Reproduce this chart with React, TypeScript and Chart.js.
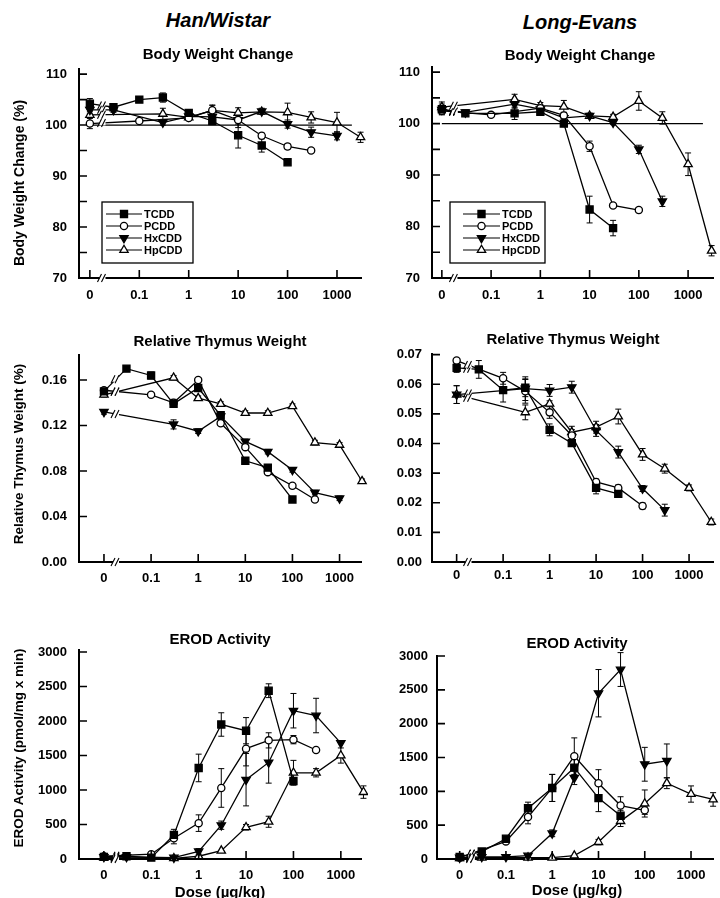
import React, { useEffect, useRef } from 'react';
import { Chart, registerables } from 'chart.js';

Chart.register(...registerables);

const FONT = "'Liberation Sans', Arial, Helvetica, sans-serif";

// ---------- shared categories ----------
const DOSES = [0, 0.03, 0.1, 0.3, 1, 3, 10, 30, 100, 300, 1000, 3000];
const DOSE_TICKS = [0, 0.1, 1, 10, 100, 1000];
const DOSE_TICK_LABELS = ['0', '0.1', '1', '10', '100', '1000'];
const ZERO_DOSE_AT = 0.01; // where the "0" dose group sits on the log axis
const BREAK_DOSE = 0.018; // axis break between control and first dose
const REFERENCE_END_DOSE = 2000;
const COMPOUNDS = ['TCDD', 'PCDD', 'HxCDD', 'HpCDD'];
const STRAINS = ['Han/Wistar', 'Long-Evans'];
const ENDPOINTS = ['Body Weight Change', 'Relative Thymus Weight', 'EROD Activity'];
const Y_TITLES = ['Body Weight Change (%)', 'Relative Thymus Weight (%)', 'EROD Activity (pmol/mg x min)'];
const X_TITLE = 'Dose (\u00b5g/kg)';

const BW_TICKS = [70, 75, 80, 85, 90, 95, 100, 105, 110];
const BW_REFERENCE = 100;
const THY_HW_TICKS = [0, 0.04, 0.08, 0.12, 0.16];
const THY_LE_TICKS = [0, 0.01, 0.02, 0.03, 0.04, 0.05, 0.06, 0.07];
const EROD_TICKS = [0, 500, 1000, 1500, 2000, 2500, 3000];

// ---------- Han/Wistar: body weight change (%) ----------
const HW_BW_TCDD = [104.2, 103.5, 105.0, 105.4, 102.4, 100.8, 98.0, 96.0, 92.7, null, null, null];
const HW_BW_PCDD = [100.3, null, 100.8, null, 101.4, 102.9, 101.0, 97.9, 95.8, 95.0, null, null];
const HW_BW_HXCDD = [103.0, 103.0, null, 100.5, 101.7, 101.6, 101.0, 102.7, 100.2, 98.6, 97.9, null];
const HW_BW_HPCDD = [102.0, null, null, 102.2, 101.5, 102.9, 102.4, 102.6, 102.5, 101.5, 100.5, 97.6];
const HW_BW_TCDD_ERR = [1.0, 0.7, 0.3, 0.9, 0.4, 0.6, 2.5, 1.3, 0.4, null, null, null];
const HW_BW_PCDD_ERR = [1.0, null, 0.3, null, 0.4, 1.0, 0.8, 0.5, 0.5, 0.4, null, null];
const HW_BW_HXCDD_ERR = [0.8, 0.5, null, 0.5, 0.4, 0.6, 1.5, 0.6, 0.8, 1.0, 0.8, null];
const HW_BW_HPCDD_ERR = [0.6, null, null, 1.1, 0.4, 1.0, 1.0, 0.5, 1.8, 1.1, 2.0, 1.0];

// ---------- Long-Evans: body weight change (%) ----------
const LE_BW_TCDD = [102.8, 102.0, null, 102.0, 102.3, 100.0, 83.3, 79.7, null, null, null, null];
const LE_BW_PCDD = [102.5, null, 101.7, null, 103.0, 101.6, 95.6, 84.1, 83.2, null, null, null];
const LE_BW_HXCDD = [102.7, 102.2, null, 103.8, 102.8, 101.1, 101.5, 100.2, 95.0, 84.9, null, null];
const LE_BW_HPCDD = [103.2, null, null, 104.7, 103.5, 103.3, 101.5, 101.3, 104.4, 101.1, 92.1, 75.3];
const LE_BW_TCDD_ERR = [1.0, 0.5, null, 1.2, 0.6, 0.5, 2.6, 1.5, null, null, null, null];
const LE_BW_PCDD_ERR = [0.8, null, 0.4, null, 0.6, 0.6, 1.0, 0.4, 0.5, null, null, null];
const LE_BW_HXCDD_ERR = [0.6, 0.4, null, 0.8, 0.6, 0.6, 0.5, 0.4, 0.8, 1.0, null, null];
const LE_BW_HPCDD_ERR = [1.0, null, null, 1.0, 0.6, 1.2, 0.5, 0.5, 1.8, 1.2, 2.2, 1.0];

// ---------- Han/Wistar: relative thymus weight (%) ----------
const HW_THY_TCDD = [0.150, 0.170, 0.164, 0.139, 0.153, 0.129, 0.089, 0.083, 0.055, null, null, null];
const HW_THY_PCDD = [0.151, null, 0.147, 0.140, 0.160, 0.122, 0.101, 0.079, 0.067, 0.055, null, null];
const HW_THY_HXCDD = [0.132, null, null, 0.121, 0.115, 0.128, 0.106, 0.097, 0.081, 0.061, 0.056, null];
const HW_THY_HPCDD = [0.147, null, null, 0.162, 0.144, 0.139, 0.131, 0.131, 0.137, 0.105, 0.103, 0.071];
const HW_THY_TCDD_ERR = [0.002, 0.002, 0.003, 0.002, 0.003, 0.003, 0.002, 0.002, 0.002, null, null, null];
const HW_THY_PCDD_ERR = [0.002, null, 0.002, 0.003, 0.002, 0.002, 0.002, 0.002, 0.002, 0.002, null, null];
const HW_THY_HXCDD_ERR = [0.002, null, null, 0.004, 0.002, 0.002, 0.002, 0.002, 0.002, 0.002, 0.002, null];
const HW_THY_HPCDD_ERR = [0.002, null, null, 0.002, 0.002, 0.002, 0.002, 0.002, 0.002, 0.002, 0.002, 0.002];

// ---------- Long-Evans: relative thymus weight (%) ----------
const LE_THY_TCDD = [0.0655, 0.065, 0.058, 0.0588, 0.0446, 0.0401, 0.025, 0.023, null, null, null, null];
const LE_THY_PCDD = [0.068, null, 0.062, 0.0576, 0.0505, 0.0427, 0.027, 0.025, 0.0189, null, null, null];
const LE_THY_HXCDD = [0.0565, null, null, 0.0585, 0.0579, 0.059, 0.0444, 0.0371, 0.0248, 0.0175, null, null];
const LE_THY_HPCDD = [0.0565, null, null, 0.0505, 0.0534, 0.0438, 0.0455, 0.0491, 0.0363, 0.0315, 0.025, 0.0135];
const LE_THY_TCDD_ERR = [0.0015, 0.003, 0.004, 0.003, 0.002, 0.001, 0.002, 0.001, null, null, null, null];
const LE_THY_PCDD_ERR = [0.0005, null, 0.002, 0.004, 0.002, 0.002, 0.001, 0.001, 0.001, null, null, null];
const LE_THY_HXCDD_ERR = [0.003, null, null, 0.004, 0.002, 0.002, 0.002, 0.002, 0.001, 0.002, null, null];
const LE_THY_HPCDD_ERR = [0.003, null, null, 0.0025, 0.001, 0.002, 0.002, 0.0025, 0.002, 0.0015, 0.001, 0.001];

// ---------- Han/Wistar: EROD activity (pmol/mg x min) ----------
const HW_EROD_TCDD = [30, 40, 20, 350, 1320, 1950, 1860, 2440, 1130, null, null, null];
const HW_EROD_PCDD = [40, null, 70, 300, 520, 1030, 1600, 1720, 1730, 1580, null, null];
const HW_EROD_HXCDD = [30, 30, null, 20, 110, 490, 1150, 1400, 2150, 2080, 1680, null];
const HW_EROD_HPCDD = [20, null, null, 10, 40, 120, 460, 540, 1250, 1250, 1500, 970];
const HW_EROD_TCDD_ERR = [null, null, null, 80, 200, 170, 190, 100, 40, null, null, null];
const HW_EROD_PCDD_ERR = [null, null, null, 80, 120, 280, 250, 110, 60, null, null, null];
const HW_EROD_HXCDD_ERR = [null, null, null, null, 40, 60, 380, 300, 250, 250, null, null];
const HW_EROD_HPCDD_ERR = [null, null, null, null, null, null, 40, 80, 180, 60, 110, 90];

// ---------- Long-Evans: EROD activity (pmol/mg x min) ----------
const LE_EROD_TCDD = [30, 110, 300, 750, 1050, 1350, 900, 640, null, null, null, null];
const LE_EROD_PCDD = [20, null, 260, 620, 1050, 1520, 1120, 790, 720, null, null, null];
const LE_EROD_HXCDD = [20, 30, 30, 50, 380, 1200, 2450, 2800, 1400, 1450, null, null];
const LE_EROD_HPCDD = [10, 20, null, 20, 20, 50, 250, 560, 820, 1120, 960, 880];
const LE_EROD_TCDD_ERR = [null, null, 30, 90, 200, 150, 200, 80, null, null, null, null];
const LE_EROD_PCDD_ERR = [null, null, 30, 100, 200, 270, 200, 130, 60, null, null, null];
const LE_EROD_HXCDD_ERR = [null, null, null, null, 50, 100, 350, 250, 250, 250, null, null];
const LE_EROD_HPCDD_ERR = [null, null, null, null, null, null, 40, 80, 200, 80, 120, 100];

// ---------- marker styles per compound ----------
const MARKERS = [
  { style: 'rect', radius: 5, rotation: 0, fill: '#000' },
  { style: 'circle', radius: 3.6, rotation: 0, fill: '#fff' },
  { style: 'triangle', radius: 4.8, rotation: 180, fill: '#000' },
  { style: 'triangle', radius: 4.8, rotation: 0, fill: '#fff' },
];

type Box = { left: number; top: number; width: number; height: number };
type Area = { left: number; top: number; right: number; bottom: number };
type LegendSpec = { dx: number; dyBottom: number; w: number; h: number; lineStart: number; lineEnd: number; textX: number };
type Spec = {
  series: (number | null)[][];
  errors: (number | null)[][];
  yTicks: number[];
  yLabel: (v: number) => string;
  yMin: number;
  yMax: number;
  xLog: [number, number];
  canvas: Box;
  area: Area;
  xPad: number;
  yPad: number;
  reference?: number;
  legend?: LegendSpec;
};

const bwLabel = (v: number) => (v % 10 === 0 ? String(v) : '');
const thyLabel = (v: number) => v.toFixed(2);
const erodLabel = (v: number) => String(v);

const PANELS: Spec[] = [
  {
    series: [HW_BW_TCDD, HW_BW_PCDD, HW_BW_HXCDD, HW_BW_HPCDD],
    errors: [HW_BW_TCDD_ERR, HW_BW_PCDD_ERR, HW_BW_HXCDD_ERR, HW_BW_HPCDD_ERR],
    yTicks: BW_TICKS, yLabel: bwLabel, yMin: 70, yMax: 111, xLog: [-2.22, 3.5],
    canvas: { left: 0, top: 60, width: 368, height: 255 },
    area: { left: 79, top: 69, right: 362, bottom: 278 },
    xPad: 10, yPad: 12, reference: BW_REFERENCE,
    legend: { dx: 23, dyBottom: 15, w: 91, h: 61, lineStart: 4, lineEnd: 40, textX: 42 },
  },
  {
    series: [LE_BW_TCDD, LE_BW_PCDD, LE_BW_HXCDD, LE_BW_HPCDD],
    errors: [LE_BW_TCDD_ERR, LE_BW_PCDD_ERR, LE_BW_HXCDD_ERR, LE_BW_HPCDD_ERR],
    yTicks: BW_TICKS, yLabel: bwLabel, yMin: 70, yMax: 111, xLog: [-2.2, 3.52],
    canvas: { left: 360, top: 60, width: 360, height: 255 },
    area: { left: 432, top: 67, right: 718, bottom: 278 },
    xPad: 10, yPad: 12, reference: BW_REFERENCE,
    legend: { dx: 18, dyBottom: 15, w: 95, h: 61, lineStart: 13, lineEnd: 50, textX: 52 },
  },
  {
    series: [HW_THY_TCDD, HW_THY_PCDD, HW_THY_HXCDD, HW_THY_HPCDD],
    errors: [HW_THY_TCDD_ERR, HW_THY_PCDD_ERR, HW_THY_HXCDD_ERR, HW_THY_HPCDD_ERR],
    yTicks: THY_HW_TICKS, yLabel: thyLabel, yMin: 0, yMax: 0.182, xLog: [-2.53, 3.47],
    canvas: { left: 0, top: 340, width: 368, height: 255 },
    area: { left: 79, top: 355, right: 362, bottom: 562 },
    xPad: 9, yPad: 12,
  },
  {
    series: [LE_THY_TCDD, LE_THY_PCDD, LE_THY_HXCDD, LE_THY_HPCDD],
    errors: [LE_THY_TCDD_ERR, LE_THY_PCDD_ERR, LE_THY_HXCDD_ERR, LE_THY_HPCDD_ERR],
    yTicks: THY_LE_TICKS, yLabel: thyLabel, yMin: 0, yMax: 0.0702, xLog: [-2.53, 3.53],
    canvas: { left: 360, top: 340, width: 360, height: 255 },
    area: { left: 432, top: 354, right: 718, bottom: 562 },
    xPad: 6, yPad: 10,
  },
  {
    series: [HW_EROD_TCDD, HW_EROD_PCDD, HW_EROD_HXCDD, HW_EROD_HPCDD],
    errors: [HW_EROD_TCDD_ERR, HW_EROD_PCDD_ERR, HW_EROD_HXCDD_ERR, HW_EROD_HPCDD_ERR],
    yTicks: EROD_TICKS, yLabel: erodLabel, yMin: 0, yMax: 3030, xLog: [-2.525, 3.44],
    canvas: { left: 0, top: 640, width: 368, height: 250 },
    area: { left: 79, top: 650, right: 363, bottom: 859 },
    xPad: 9, yPad: 12,
  },
  {
    series: [LE_EROD_TCDD, LE_EROD_PCDD, LE_EROD_HXCDD, LE_EROD_HPCDD],
    errors: [LE_EROD_TCDD_ERR, LE_EROD_PCDD_ERR, LE_EROD_HXCDD_ERR, LE_EROD_HPCDD_ERR],
    yTicks: EROD_TICKS, yLabel: erodLabel, yMin: 0, yMax: 3000, xLog: [-2.49, 3.49],
    canvas: { left: 360, top: 640, width: 360, height: 250 },
    area: { left: 437, top: 656, right: 718, bottom: 859 },
    xPad: 9, yPad: 9,
  },
];

function buildPoints(values: (number | null)[], errors: (number | null)[]) {
  const pts: { x: number; y: number; err: number }[] = [];
  DOSES.forEach((d, i) => {
    const v = values[i];
    if (v == null) return;
    pts.push({ x: d === 0 ? ZERO_DOSE_AT : d, y: v, err: errors[i] ?? 0 });
  });
  return pts;
}

function drawMarker(ctx: CanvasRenderingContext2D, m: any, x: number, y: number) {
  ctx.beginPath();
  if (m.style === 'rect') {
    const s = m.radius * Math.SQRT1_2;
    ctx.rect(x - s, y - s, 2 * s, 2 * s);
  } else if (m.style === 'circle') {
    ctx.arc(x, y, m.radius, 0, Math.PI * 2);
  } else {
    let a = (m.rotation * Math.PI) / 180;
    for (let k = 0; k < 3; k++) {
      const px = x + Math.sin(a) * m.radius;
      const py = y - Math.cos(a) * m.radius;
      if (k === 0) ctx.moveTo(px, py);
      else ctx.lineTo(px, py);
      a += (2 * Math.PI) / 3;
    }
  }
  ctx.closePath();
  ctx.fillStyle = m.fill;
  ctx.fill();
  ctx.lineWidth = 1.3;
  ctx.strokeStyle = '#000';
  ctx.stroke();
}

function drawSlashes(ctx: CanvasRenderingContext2D, x: number, y: number) {
  ctx.fillStyle = '#fff';
  ctx.fillRect(x - 3, y - 2.5, 6, 5);
  ctx.strokeStyle = '#000';
  ctx.lineWidth = 1.1;
  ctx.beginPath();
  ctx.moveTo(x - 5, y + 4);
  ctx.lineTo(x - 1, y - 4);
  ctx.moveTo(x - 1, y + 4);
  ctx.lineTo(x + 3, y - 4);
  ctx.stroke();
}

function makeDecor(spec: Spec) {
  return {
    id: 'decor',
    beforeDatasetsDraw(chart: any) {
      const { ctx, scales } = chart;
      const x = scales.x;
      const y = scales.y;
      ctx.save();
      if (spec.reference != null) {
        const py = y.getPixelForValue(spec.reference);
        ctx.strokeStyle = '#000';
        ctx.lineWidth = 1.2;
        ctx.beginPath();
        ctx.moveTo(x.getPixelForValue(ZERO_DOSE_AT), py);
        ctx.lineTo(x.getPixelForValue(REFERENCE_END_DOSE), py);
        ctx.stroke();
      }
      // error bars
      ctx.strokeStyle = '#000';
      ctx.lineWidth = 1;
      chart.data.datasets.forEach((ds: any) => {
        ds.data.forEach((p: any) => {
          if (!p.err) return;
          const px = x.getPixelForValue(p.x);
          const t = y.getPixelForValue(p.y + p.err);
          const b = y.getPixelForValue(p.y - p.err);
          ctx.beginPath();
          ctx.moveTo(px, t);
          ctx.lineTo(px, b);
          ctx.moveTo(px - 3, t);
          ctx.lineTo(px + 3, t);
          ctx.moveTo(px - 3, b);
          ctx.lineTo(px + 3, b);
          ctx.stroke();
        });
      });
      ctx.restore();
    },
    afterDatasetsDraw(chart: any) {
      const { ctx, scales } = chart;
      const bx = scales.x.getPixelForValue(BREAK_DOSE);
      ctx.save();
      chart.data.datasets.forEach((ds: any, di: number) => {
        const meta = chart.getDatasetMeta(di);
        if (ds.data.length < 2 || ds.data[0].x !== ZERO_DOSE_AT) return;
        const p0 = meta.data[0];
        const p1 = meta.data[1];
        const t = (bx - p0.x) / (p1.x - p0.x);
        const by = p0.y + t * (p1.y - p0.y);
        drawSlashes(ctx, bx, by);
      });
      ctx.restore();
    },
    afterDraw(chart: any) {
      const { ctx, chartArea: a, scales } = chart;
      const x = scales.x;
      const y = scales.y;
      ctx.save();
      ctx.strokeStyle = '#000';
      ctx.lineWidth = 1.6;
      ctx.beginPath();
      DOSE_TICKS.forEach((d) => {
        const px = x.getPixelForValue(d === 0 ? ZERO_DOSE_AT : d);
        ctx.moveTo(px, a.bottom);
        ctx.lineTo(px, a.bottom - 8);
      });
      spec.yTicks.forEach((v) => {
        const py = y.getPixelForValue(v);
        ctx.moveTo(a.left, py);
        ctx.lineTo(a.left + 8, py);
      });
      ctx.stroke();
      // axis break
      drawSlashes(ctx, x.getPixelForValue(BREAK_DOSE), a.bottom);
      // legend
      const L = spec.legend;
      if (L) {
        const lx = a.left + L.dx;
        const ly = a.bottom - L.dyBottom - L.h;
        ctx.fillStyle = '#fff';
        ctx.fillRect(lx, ly, L.w, L.h);
        ctx.lineWidth = 1.3;
        ctx.strokeStyle = '#000';
        ctx.strokeRect(lx, ly, L.w, L.h);
        chart.data.datasets.forEach((ds: any, k: number) => {
          const ry = ly + 12 + k * 12;
          ctx.strokeStyle = '#000';
          ctx.lineWidth = 1.2;
          ctx.beginPath();
          ctx.moveTo(lx + L.lineStart, ry);
          ctx.lineTo(lx + L.lineEnd, ry);
          ctx.stroke();
          drawMarker(ctx, MARKERS[k], lx + (L.lineStart + L.lineEnd) / 2, ry);
          ctx.fillStyle = '#000';
          ctx.font = `bold 11px ${FONT}`;
          ctx.textBaseline = 'middle';
          ctx.textAlign = 'left';
          ctx.fillText(ds.label, lx + L.textX, ry + 0.5);
        });
      }
      ctx.restore();
    },
  };
}

function buildConfig(spec: Spec): any {
  const { canvas, area } = spec;
  const yWidth = area.left - canvas.left;
  const xHeight = canvas.top + canvas.height - area.bottom;
  return {
    type: 'line',
    data: {
      datasets: COMPOUNDS.map((name, k) => ({
        label: name,
        data: buildPoints(spec.series[k], spec.errors[k]),
        borderColor: '#000',
        borderWidth: 1.3,
        tension: 0,
        fill: false,
        clip: false,
        pointStyle: MARKERS[k].style,
        pointRadius: MARKERS[k].radius,
        pointRotation: MARKERS[k].rotation,
        pointBackgroundColor: MARKERS[k].fill,
        pointBorderColor: '#000',
        pointBorderWidth: 1.3,
      })),
    },
    options: {
      animation: false,
      responsive: false,
      maintainAspectRatio: false,
      events: [],
      layout: {
        padding: {
          top: area.top - canvas.top,
          right: canvas.left + canvas.width - area.right,
          left: 0,
          bottom: 0,
        },
      },
      plugins: { legend: { display: false }, tooltip: { enabled: false }, title: { display: false } },
      scales: {
        x: {
          type: 'logarithmic',
          bounds: 'data',
          min: Math.pow(10, spec.xLog[0]),
          max: Math.pow(10, spec.xLog[1]),
          afterBuildTicks: (s: any) => {
            s.ticks = DOSE_TICKS.map((d) => ({ value: d === 0 ? ZERO_DOSE_AT : d }));
          },
          afterFit: (s: any) => {
            s.height = xHeight;
            s.paddingLeft = 0;
            s.paddingRight = 0;
          },
          ticks: {
            autoSkip: false,
            maxRotation: 0,
            minRotation: 0,
            padding: spec.xPad,
            color: '#000',
            font: { family: FONT, size: 13, weight: 'bold' },
            callback: (_v: any, i: number) => DOSE_TICK_LABELS[i],
          },
          grid: { display: false, drawTicks: false },
          border: { display: true, color: '#000', width: 2 },
        },
        y: {
          type: 'linear',
          bounds: 'data',
          min: spec.yMin,
          max: spec.yMax,
          afterBuildTicks: (s: any) => {
            s.ticks = spec.yTicks.map((v) => ({ value: v }));
          },
          afterFit: (s: any) => {
            s.width = yWidth;
            s.paddingTop = 0;
            s.paddingBottom = 0;
          },
          ticks: {
            autoSkip: false,
            padding: spec.yPad,
            color: '#000',
            font: { family: FONT, size: 13, weight: 'bold' },
            callback: (v: number) => spec.yLabel(v),
          },
          grid: { display: false, drawTicks: false },
          border: { display: true, color: '#000', width: 2 },
        },
      },
    },
    plugins: [makeDecor(spec)],
  };
}

function Panel({ spec }: { spec: Spec }) {
  const ref = useRef<HTMLCanvasElement>(null);
  useEffect(() => {
    const chart = new Chart(ref.current as HTMLCanvasElement, buildConfig(spec));
    return () => chart.destroy();
  }, [spec]);
  const c = spec.canvas;
  return (
    <canvas
      ref={ref}
      width={c.width}
      height={c.height}
      style={{ position: 'absolute', left: c.left, top: c.top, width: c.width, height: c.height }}
    />
  );
}

function Label({ text, x, y, size, italic, rotate }: { text: string; x: number; y: number; size: number; italic?: boolean; rotate?: boolean }) {
  return (
    <div
      style={{
        position: 'absolute',
        left: x,
        top: y,
        transform: `translate(-50%, -50%)${rotate ? ' rotate(-90deg)' : ''}`,
        fontFamily: FONT,
        fontWeight: 'bold',
        fontStyle: italic ? 'italic' : 'normal',
        fontSize: size,
        lineHeight: 1,
        color: '#000',
        whiteSpace: 'nowrap',
      }}
    >
      {text}
    </div>
  );
}

export default function App() {
  return (
    <div style={{ position: 'absolute', left: 0, top: 0, width: 720, height: 898, background: '#fff', overflow: 'hidden' }}>
      {PANELS.map((p, i) => (
        <Panel key={i} spec={p} />
      ))}
      <Label text={STRAINS[0]} x={218} y={20} size={20} italic />
      <Label text={STRAINS[1]} x={580} y={22} size={20} italic />
      <Label text={ENDPOINTS[0]} x={218} y={53} size={15} />
      <Label text={ENDPOINTS[0]} x={580} y={54} size={15} />
      <Label text={ENDPOINTS[1]} x={220} y={340} size={15} />
      <Label text={ENDPOINTS[1]} x={573} y={338} size={15} />
      <Label text={ENDPOINTS[2]} x={220} y={638} size={15} />
      <Label text={ENDPOINTS[2]} x={577} y={642} size={15} />
      <Label text={Y_TITLES[0]} x={19} y={183} size={14} rotate />
      <Label text={Y_TITLES[1]} x={19} y={454} size={13.5} rotate />
      <Label text={Y_TITLES[2]} x={19} y={748} size={13.5} rotate />
      <Label text={X_TITLE} x={220} y={891} size={15} />
      <Label text={X_TITLE} x={577} y={889} size={15} />
    </div>
  );
}
